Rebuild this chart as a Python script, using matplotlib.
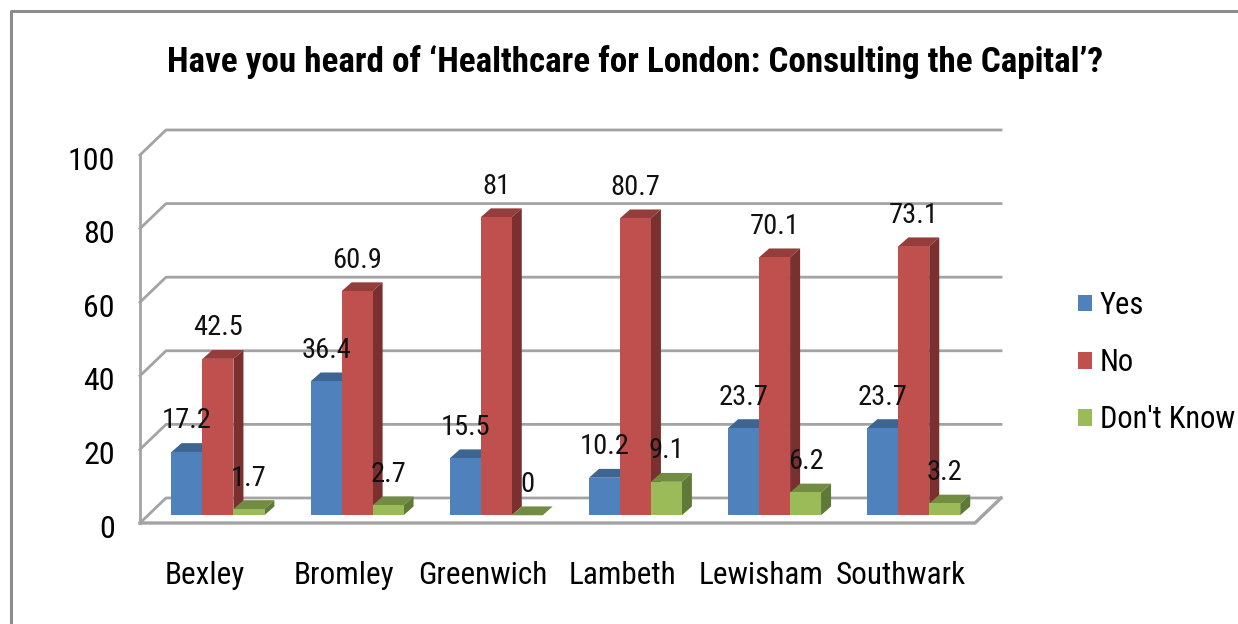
import matplotlib
matplotlib.use("Agg")
import matplotlib.pyplot as plt
import numpy as np
from matplotlib.lines import Line2D
from matplotlib.transforms import Affine2D

boroughs = ["Bexley", "Bromley", "Greenwich", "Lambeth", "Lewisham", "Southwark"]
yes = [17.2, 36.4, 15.5, 10.2, 23.7, 23.7]
no = [42.5, 60.9, 81, 80.7, 70.1, 73.1]
dont_know = [1.7, 2.7, 0, 9.1, 6.2, 3.2]
y_ticks = [0, 20, 40, 60, 80, 100]

plt.rcParams["font.family"] = ["Roboto Condensed", "DejaVu Sans"]

W, H = 1238, 624
fig = plt.figure(figsize=(W / 100, H / 100), dpi=100)
ax = fig.add_axes([140 / W, (H - 523) / H, 835 / W, 368 / H])
ax.set_xlim(0, 6)
ax.set_ylim(0, 100)

GRID = "#a3a3a3"
# fake 3d depth, in data units
WALL_DX, WALL_DY = 0.187, 6.8
BASE_DX, BASE_DY = 0.06, 2.1
CAP_DX, CAP_DY = 0.072, 2.4
BAR_W = 0.2225

# floor and back wall
for v in y_ticks:
    ax.plot([0, WALL_DX, 6 + WALL_DX], [v, v + WALL_DY, v + WALL_DY],
            color=GRID, lw=2, zorder=1, clip_on=False)
ax.plot([0, 0], [0, 100], color=GRID, lw=2, zorder=1, clip_on=False)
ax.plot([0, 6, 6 + WALL_DX], [0, 0, WALL_DY], color=GRID, lw=2.4, zorder=1, clip_on=False)

series = [
    ("Yes", yes, "#4f81bd", "#3c6591", "#345a85", -1),
    ("No", no, "#c0504d", "#953d3b", "#7a302f", 0),
    ("Don't Know", dont_know, "#9bbb59", "#728c43", "#5f7a36", 1),
]
x = np.arange(len(boroughs)) + 0.5 + BASE_DX

for k, (name, vals, col, top, side, pos) in enumerate(series):
    z = 3 + k
    xs = x + pos * BAR_W
    for xc, v in zip(xs, vals):
        l, r = xc - BAR_W / 2, xc + BAR_W / 2
        t = v + BASE_DY
        ax.fill([l, r, r + CAP_DX, l + CAP_DX], [t, t, t + CAP_DY, t + CAP_DY],
                color=top, lw=0, zorder=z, clip_on=False)
        ax.fill([r, r + CAP_DX, r + CAP_DX, r], [BASE_DY, BASE_DY + CAP_DY, t + CAP_DY, t],
                color=side, lw=0, zorder=z, clip_on=False)
    ax.bar(xs, vals, BAR_W, bottom=BASE_DY, color=col, label=name, zorder=z + 0.5, clip_on=False)
    for xc, v in zip(xs, vals):
        ax.annotate(str(v), (xc, v + BASE_DY), xytext=(0, 31), textcoords="offset pixels",
                    ha="center", va="center", fontsize=20.5, color="#111111", zorder=10)

for s in ax.spines.values():
    s.set_visible(False)
ax.patch.set_alpha(0)
ax.set_yticks(y_ticks)
ax.set_xticks(np.arange(len(boroughs)) + 0.465)
ax.set_xticklabels(boroughs)
ax.tick_params(axis="y", length=0, pad=18, labelsize=23)
ax.tick_params(axis="x", length=0, pad=27, labelsize=22.5)
# numbers sit a little below their gridlines
for lab in ax.get_yticklabels():
    lab.set_transform(lab.get_transform() + Affine2D().translate(0, -3))

fig.text(635 / W, 1 - 62 / H, "Have you heard of \u2018Healthcare for London: Consulting the Capital\u2019?",
         ha="center", va="center", fontsize=25.3, fontweight="bold", color="black")

ax.legend(loc="upper left", bbox_to_anchor=(1078 / W, 1 - 291 / H), bbox_transform=fig.transFigure,
          frameon=False, fontsize=22, handlelength=0.46, handleheight=0.46,
          handletextpad=0.25, labelspacing=0.92, borderaxespad=0, borderpad=0)

# slide border, only top and left are in frame
fig.add_artist(Line2D([11 / W, 11 / W, 1], [0, 1 - 11 / H, 1 - 11 / H], color="#8c8c8c", lw=2.2))

fig.savefig("out.png", dpi=100)
